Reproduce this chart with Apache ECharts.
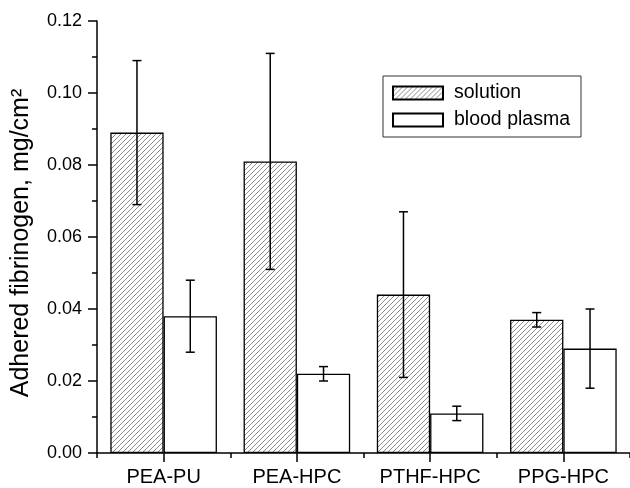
<!DOCTYPE html>
<html>
<head>
<meta charset="utf-8">
<script src="https://cdn.jsdelivr.net/npm/echarts@6/dist/echarts.min.js"></script>
<style>html,body{margin:0;padding:0;background:#fff}#c{width:630px;height:488px}</style>
</head>
<body>
<div id="c"></div>
<script>
const categories = ['PEA-PU', 'PEA-HPC', 'PTHF-HPC', 'PPG-HPC'];
const solution = [0.089, 0.081, 0.044, 0.037];
const solutionErr = [0.020, 0.030, 0.023, 0.002];
const plasma = [0.038, 0.022, 0.011, 0.029];
const plasmaErr = [0.010, 0.002, 0.002, 0.011];
const yTicks = [0, 0.02, 0.04, 0.06, 0.08, 0.10, 0.12];

const FONT = 'Liberation Sans, Arial, sans-serif';

// hatch pattern
const pc = document.createElement('canvas');
pc.width = 5; pc.height = 5;
const g = pc.getContext('2d');
g.fillStyle = '#fff'; g.fillRect(0, 0, 5, 5);
g.strokeStyle = '#707070'; g.lineWidth = 0.8;
g.beginPath();
g.moveTo(0, 5); g.lineTo(5, 0);
g.moveTo(-1, 1); g.lineTo(1, -1);
g.moveTo(4, 6); g.lineTo(6, 4);
g.stroke();
const hatch = { image: pc, repeat: 'repeat' };

function errData(vals, errs) {
  return vals.map((v, i) => [i, v - errs[i], v + errs[i]]);
}
function errRender(offsetFrac) {
  return function (params, api) {
    const i = api.value(0);
    const lo = api.coord([i, api.value(1)]);
    const hi = api.coord([i, api.value(2)]);
    const bw = api.size([1, 0])[0];
    const x = lo[0] + offsetFrac * bw;
    const cap = 4.5;
    const st = { stroke: '#000', lineWidth: 1.5 };
    return {
      type: 'group',
      children: [
        { type: 'line', shape: { x1: x, y1: lo[1], x2: x, y2: hi[1] }, style: st },
        { type: 'line', shape: { x1: x - cap, y1: lo[1], x2: x + cap, y2: lo[1] }, style: st },
        { type: 'line', shape: { x1: x - cap, y1: hi[1], x2: x + cap, y2: hi[1] }, style: st }
      ]
    };
  };
}

const chart = echarts.init(document.getElementById('c'), null, { renderer: 'canvas' });
chart.setOption({
  animation: false,
  backgroundColor: '#fff',
  textStyle: { fontFamily: FONT },
  grid: { left: 97, top: 21, right: 0, bottom: 35 },
  legend: {
    orient: 'vertical',
    left: 383, top: 76,
    borderColor: '#333', borderWidth: 1,
    padding: [7, 11, 7, 9],
    itemWidth: 50, itemHeight: 13, itemGap: 7,
    icon: 'rect',
    textStyle: { fontSize: 19.5, color: '#000', fontFamily: FONT, padding: [0, 0, 0, 6] },
    data: ['solution', 'blood plasma']
  },
  xAxis: [
    {
      type: 'category', data: categories, position: 'bottom',
      axisLine: { lineStyle: { color: '#000', width: 1.5 } },
      axisTick: { show: true, length: 5, lineStyle: { color: '#000', width: 1.5 } },
      axisLabel: { show: false }
    },
    {
      type: 'category', data: categories, position: 'bottom',
      axisLine: { show: false },
      axisTick: { show: true, alignWithLabel: true, length: 9, lineStyle: { color: '#000', width: 1.5 } },
      axisLabel: { show: true, fontSize: 20, color: '#000', margin: 14, fontFamily: FONT }
    }
  ],
  yAxis: {
    type: 'value', min: yTicks[0], max: yTicks[yTicks.length - 1], interval: yTicks[1] - yTicks[0],
    name: 'Adhered fibrinogen, mg/cm²',
    nameLocation: 'middle', nameGap: 63,
    nameTextStyle: { fontSize: 25, color: '#000', fontFamily: FONT, padding: [0, 12, 0, 0] },
    axisLine: { show: true, lineStyle: { color: '#000', width: 1.5 } },
    axisTick: { show: true, length: 9, lineStyle: { color: '#000', width: 1.5 } },
    minorTick: { show: true, splitNumber: 2, length: 5, lineStyle: { color: '#000', width: 1.5 } },
    splitLine: { show: false },
    minorSplitLine: { show: false },
    axisLabel: { fontSize: 18, color: '#000', margin: 15, fontFamily: FONT, formatter: v => v.toFixed(2) }
  },
  series: [
    {
      name: 'solution', type: 'bar', data: solution, xAxisIndex: 0,
      barCategoryGap: '20%', barGap: '0%',
      itemStyle: { color: hatch, borderColor: '#000', borderWidth: 1.3 }
    },
    {
      name: 'blood plasma', type: 'bar', data: plasma, xAxisIndex: 0,
      barCategoryGap: '20%', barGap: '0%',
      itemStyle: { color: '#fff', borderColor: '#000', borderWidth: 1.3 }
    },
    {
      type: 'custom', xAxisIndex: 0, z: 10, renderItem: errRender(-0.2),
      data: errData(solution, solutionErr), silent: true
    },
    {
      type: 'custom', xAxisIndex: 0, z: 10, renderItem: errRender(0.2),
      data: errData(plasma, plasmaErr), silent: true
    }
  ]
});
</script>
</body>
</html>
